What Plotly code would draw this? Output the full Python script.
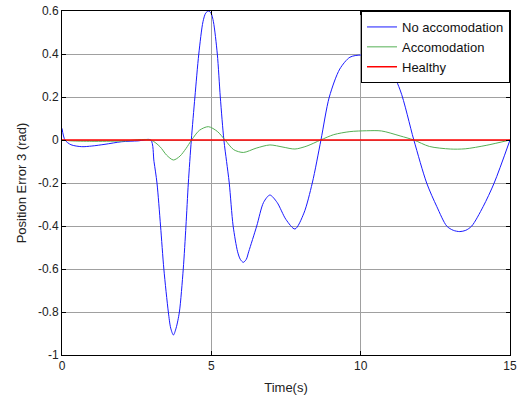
import plotly.graph_objects as go

# Data
t_blue = [0, 0.1, 0.3, 0.66, 1.0, 1.44, 2.0, 2.55, 2.97, 3.08, 3.18, 3.30, 3.41, 3.56, 3.64,
          3.73, 3.82, 3.93, 4.06, 4.15, 4.23, 4.33, 4.45, 4.58, 4.72, 4.81, 4.9, 4.99, 5.07,
          5.2, 5.30, 5.42, 5.51, 5.6, 5.73, 5.88, 5.97, 6.07, 6.17, 6.25, 6.52, 6.75, 6.96,
          7.2, 7.5, 7.8, 8.1, 8.38, 8.67, 8.95, 9.3, 9.64, 10.0, 10.4, 10.9, 11.32, 11.78,
          12.21, 12.55, 12.88, 13.1, 13.32, 13.52, 13.72, 14.1, 14.47, 15]
no_accom = [0.054, 0.0, -0.022, -0.031, -0.028, -0.02, -0.008, -0.004, 0.0, -0.1, -0.2, -0.4,
            -0.6, -0.8, -0.875, -0.907, -0.875, -0.8, -0.6, -0.4, -0.2, 0.0, 0.2, 0.4, 0.55,
            0.59, 0.6, 0.59, 0.55, 0.4, 0.2, 0.0, -0.1, -0.2, -0.4, -0.52, -0.555, -0.569,
            -0.555, -0.52, -0.4, -0.29, -0.256, -0.29, -0.37, -0.414, -0.34, -0.2, 0.0, 0.2,
            0.33, 0.385, 0.395, 0.385, 0.35, 0.233, 0.0, -0.2, -0.31, -0.4, -0.42, -0.426,
            -0.42, -0.4, -0.31, -0.2, 0.0]

t_green = [0, 0.3, 1.0, 2.0, 2.97, 3.28, 3.5, 3.73, 3.95, 4.15, 4.34, 4.6, 4.9, 5.2, 5.46,
           5.75, 6.07, 6.5, 6.96, 7.4, 7.8, 8.2, 8.66, 9.1, 9.64, 10.2, 10.7, 11.32, 11.78,
           12.3, 13.0, 13.5, 14.2, 15]
accom = [0.0, -0.004, -0.006, -0.005, 0.0, -0.031, -0.07, -0.093, -0.075, -0.04, 0.0, 0.045,
         0.062, 0.04, 0.0, -0.045, -0.058, -0.038, -0.023, -0.033, -0.042, -0.028, 0.0, 0.025,
         0.039, 0.043, 0.042, 0.019, 0.0, -0.03, -0.042, -0.041, -0.025, 0.0]

t_healthy = [0, 15]
healthy = [0, 0]

x_ticks = [0, 5, 10, 15]
y_ticks = [-1, -0.8, -0.6, -0.4, -0.2, 0, 0.2, 0.4, 0.6]
y_tick_text = ["-1", "-0.8", "-0.6", "-0.4", "-0.2", "0", "0.2", "0.4", "0.6"]

FONT = "Liberation Sans, Arial"

fig = go.Figure()
fig.add_trace(go.Scatter(x=t_blue, y=no_accom, mode="lines", name="No accomodation",
                         line=dict(color="#1a1aff", width=1, shape="spline", smoothing=0.8)))
fig.add_trace(go.Scatter(x=t_green, y=accom, mode="lines", name="Accomodation",
                         line=dict(color="#55b055", width=1, shape="spline", smoothing=0.8)))
fig.add_trace(go.Scatter(x=t_healthy, y=healthy, mode="lines", name="Healthy",
                         line=dict(color="#ff0000", width=1.5)))

axis_common = dict(showline=True, linecolor="black", linewidth=1, mirror="ticks",
                   ticks="inside", ticklen=4, tickcolor="black", showgrid=True,
                   gridcolor="#a0a0a0", gridwidth=1, zeroline=False, automargin=False,
                   tickfont=dict(family=FONT, size=12, color="#222"))

fig.update_xaxes(range=[0, 15], tickvals=x_ticks, ticktext=[str(v) for v in x_ticks],
                 title=dict(text="Time(s)", font=dict(family=FONT, size=13, color="#222"), standoff=10),
                 **axis_common)
fig.update_yaxes(range=[-1, 0.6], tickvals=y_ticks, ticktext=y_tick_text,
                 title=dict(text="Position Error 3 (rad)", font=dict(family=FONT, size=13, color="#222"), standoff=8),
                 **axis_common)

fig.update_layout(
    width=523, height=409,
    margin=dict(l=62, r=13, t=11, b=54),
    paper_bgcolor="white", plot_bgcolor="white",
    showlegend=True,
    legend=dict(x=1, y=1, xanchor="right", yanchor="top", bgcolor="white",
                bordercolor="black", borderwidth=1,
                font=dict(family=FONT, size=13, color="#111"),
                tracegroupgap=0),
)

fig.write_html("out.html")
